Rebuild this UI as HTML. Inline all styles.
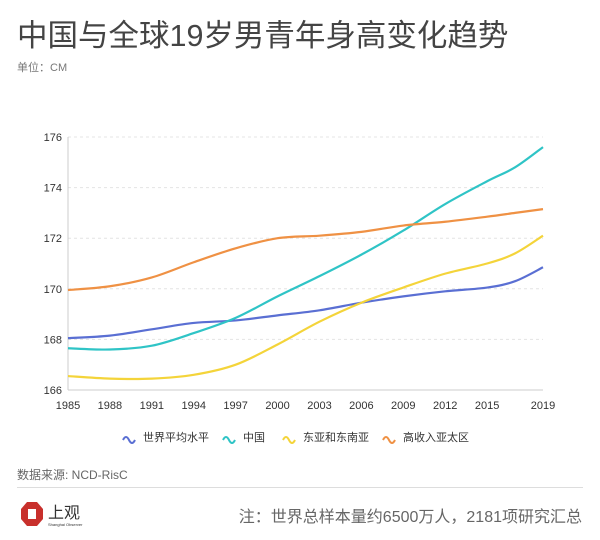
<!DOCTYPE html>
<html><head><meta charset="utf-8"><style>
body{margin:0;background:#fff;width:600px;height:540px;overflow:hidden;font-family:"Liberation Sans","Noto Sans CJK SC",sans-serif;}
.t{position:absolute;left:17px;top:11px;font-size:30.5px;color:#444;letter-spacing:0px;}
.u{position:absolute;left:17px;top:59px;font-size:11px;color:#777;}
.src{position:absolute;left:17px;top:466px;font-size:12px;color:#666;}
.hr{position:absolute;left:17px;top:487px;width:566px;height:1px;background:#ddd;}
.note{position:absolute;right:18px;top:503px;font-size:16px;color:#666;}
.logo{position:absolute;left:18px;top:498px;}
</style></head><body>
<div class="t">中国与全球19岁男青年身高变化趋势</div>
<div class="u">单位：CM</div>
<svg id="c" width="600" height="460" style="position:absolute;left:0;top:0"></svg>
<div class="src">数据来源: NCD-RisC</div>
<div class="hr"></div>
<div class="logo"><svg width="70" height="30"><polygon points="9,4 19,4 25,11 25,21 19,28 9,28 3,21 3,11" fill="#c8302c"/><rect x="10" y="11" width="8" height="10" fill="#fff"/><text x="30" y="20" font-size="16" fill="#333" font-family="Noto Sans CJK SC">上观</text><text x="30" y="28" font-size="4" fill="#333">Shanghai Observer</text></svg></div>
<div class="note">注：世界总样本量约6500万人，2181项研究汇总</div>
<script>
const years=[1985,1988,1991,1994,1997,2000,2003,2006,2009,2012,2015,2017,2019];
const xTicks=[1985,1988,1991,1994,1997,2000,2003,2006,2009,2012,2015,2019];
const yTicks=[166,168,170,172,174,176];
const names=["世界平均水平","中国","东亚和东南亚","高收入亚太区"];
const colors=["#5a6fd3","#2fc4c6","#f4d43a","#ef9144"];
const world=[168.05,168.15,168.4,168.65,168.75,168.95,169.15,169.45,169.7,169.9,170.05,170.3,170.85];
const china=[167.65,167.6,167.75,168.25,168.85,169.7,170.5,171.35,172.3,173.35,174.25,174.8,175.6];
const eastAsia=[166.55,166.45,166.45,166.6,167.0,167.8,168.7,169.45,170.05,170.6,171.0,171.4,172.1];
const highIncome=[169.95,170.1,170.45,171.05,171.6,172.0,172.1,172.25,172.5,172.65,172.85,173.0,173.15];
const series=[world,china,eastAsia,highIncome];
const X=y=>68+(y-1985)*(543-68)/34;
const Y=v=>390-(v-166)*(390-137)/10;
const s=document.getElementById('c');const ns="http://www.w3.org/2000/svg";
function mk(t,a){const e=document.createElementNS(ns,t);for(const k in a)e.setAttribute(k,a[k]);s.appendChild(e);return e;}
yTicks.forEach(v=>{const g=mk('line',{x1:68,x2:543,y1:Y(v),y2:Y(v),stroke:v==166?'#ccc':'#e4e4e4','stroke-dasharray':v==166?'':'3,3'});

const t=mk('text',{x:62,y:Y(v)+4,'text-anchor':'end','font-size':11,fill:'#333'});t.textContent=v;
});
mk('line',{x1:68,x2:68,y1:137,y2:390,stroke:'#ccc'});
xTicks.forEach(y=>{const t=mk('text',{x:X(y),y:409,'text-anchor':'middle','font-size':11,fill:'#333'});t.textContent=y;
});
function path(d){const p=years.map((y,i)=>[X(y),Y(d[i])]);let s='M'+p[0];for(let i=0;i<p.length-1;i++){const p0=p[i-1]||p[i],p1=p[i],p2=p[i+1],p3=p[i+2]||p2;
s+=`C${p1[0]+(p2[0]-p0[0])/6},${p1[1]+(p2[1]-p0[1])/6} ${p2[0]-(p3[0]-p1[0])/6},${p2[1]-(p3[1]-p1[1])/6} ${p2[0]},${p2[1]}`;}return s;}
series.forEach((d,i)=>{const e=mk('path',{d:path(d),fill:'none',stroke:colors[i],'stroke-width':2.2});
});
const lx=[123,223,283,383];
names.forEach((n,i)=>{const g=mk('path',{d:`M${lx[i]},440 q3,-6 6,0 t6,0`,fill:'none',stroke:colors[i],'stroke-width':2});

const t=mk('text',{x:lx[i]+20,y:441,'font-size':11,fill:'#333'});t.textContent=n;
});
</script>
</body></html>
